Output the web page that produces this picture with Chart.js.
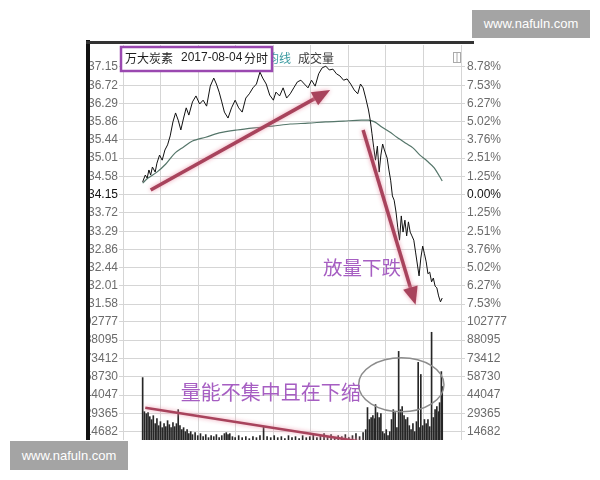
<!DOCTYPE html>
<html>
<head>
<meta charset="utf-8">
<script src="https://cdn.jsdelivr.net/npm/chart.js@4.4.0/dist/chart.umd.min.js"></script>
<style>
body { margin: 0; background: #fff; width: 600px; height: 480px; position: relative; overflow: hidden; }
#wrap { position: absolute; left: 0; top: 0; width: 600px; height: 440px; overflow: hidden; }
.box { position: absolute; }
.wm { position: absolute; background: #a4a4a4; color: #fff; font: 13px "Liberation Sans", Arial, sans-serif; text-align: center; }
</style>
</head>
<body>
<div id="wrap"><canvas id="chart" width="600" height="480"></canvas></div>
<div class="box" style="left:0;top:38px;width:86px;height:402px;background:#fff"></div>
<div class="box" style="left:86px;top:40px;width:4px;height:400px;background:#111"></div>
<div class="box" style="left:86px;top:41px;width:388px;height:3px;background:#333"></div>
<div class="wm" style="left:472px;top:10px;width:118px;height:28px;line-height:28px">www.nafuln.com</div>
<div class="wm" style="left:10px;top:441px;width:118px;height:29px;line-height:29px">www.nafuln.com</div>
<script>
// minutes since open (0..240) and price
var priceMin = [0.7, 2.8, 4.3, 5.7, 7.1, 8.5, 10.7, 12.1, 14.2, 16.3, 18.5, 20.6, 22.7, 24.9, 27, 29.1, 31.2, 33.4, 35.5, 37.6,
  40.5, 43.3, 46.2, 49, 51.8, 54.7, 57.5, 59.6, 61.8, 63.9, 66, 68.9, 71.7, 74.6, 77.4, 80.2, 83.1, 85.9, 88.8, 91.6,
  94.4, 96.6, 99.4, 102.2, 105.1, 107.2, 110.1, 112.9, 115.7, 118.6, 121.4, 124.3, 127.1, 129.9, 132.8, 135.6, 138.5, 141.3, 144.1, 147,
  149.8, 152.7, 155.5, 158.3, 161.2, 164, 166.9, 169.7, 172.5, 174.7, 176.8, 178.9, 181.1, 182.5, 183.9, 185.3, 186.7, 188.2, 189.6, 191,
  192.4, 193.8, 196, 197.4, 198.8, 200.2, 201.6, 203.1, 204.5, 205.9, 207.3, 208.7, 210.2, 211.6, 213, 214.4, 215.8, 217.3, 218.7, 220.1,
  221.5, 222.9, 224.4, 225.8, 227.2, 228.6, 230, 231.5, 232.9, 234.3, 235.7, 237.1, 238.6, 240]
var price = [34.45, 34.61, 34.54, 34.73, 34.61, 34.8, 34.68, 34.89, 35.08, 34.96, 35.2, 35.32, 35.53, 35.86, 36.07, 35.9, 35.67, 35.95, 36.19, 36.02,
  36.33, 36.47, 36.28, 36.37, 36.23, 36.7, 36.89, 36.75, 36.56, 36.33, 36.09, 35.95, 36.19, 36.37, 36.19, 36.09, 36.42, 36.52, 36.66, 36.75,
  37.03, 36.89, 36.75, 36.49, 36.37, 36.56, 36.47, 36.66, 36.42, 36.52, 36.66, 36.8, 36.84, 36.75, 36.66, 36.84, 36.7, 36.99, 37.13, 37.17,
  37.08, 37.1, 36.99, 36.94, 36.84, 36.87, 36.75, 36.61, 36.52, 36.75, 36.66, 36.42, 36.14, 35.9, 35.58, 35.25, 34.96, 35.29, 34.68, 35.08,
  35.34, 35.2, 35.01, 34.73, 34.49, 34.12, 34.02, 33.74, 33.37, 33.08, 33.65, 33.27, 33.55, 33.18, 33.51, 33.27, 33.18, 33.08, 32.8, 32.52,
  32.24, 32.66, 32.94, 32.76, 32.57, 32.29, 32.33, 32.1, 32.19, 32.0, 31.96, 31.77, 31.63, 31.72]

// average price line
var avgMin = [0.7, 5, 12.1, 19.2, 26.3, 33.4, 40.5, 51.1, 61.8, 76, 90.2, 104.4, 118.6, 132.8, 147, 161.2, 175.4, 181.1,
  186, 191.7, 198.1, 203.8, 210.9, 216.6, 222.2, 227.9, 233.6, 240]
var avgPrice = [34.42, 34.54, 34.68, 34.87, 35.12, 35.27, 35.41, 35.5, 35.6, 35.67, 35.72, 35.76, 35.81, 35.83, 35.86, 35.88, 35.9, 35.9,
  35.86, 35.74, 35.62, 35.5, 35.36, 35.25, 35.08, 34.94, 34.78, 34.47]

// volume bars
var volMin = [0.7, 2.1, 3.6, 5, 6.4, 7.8, 9.2, 10.7, 12.1, 13.5, 14.9, 16.3, 17.8, 19.2, 20.6, 22, 23.4, 24.9, 26.3, 27.7,
  29.1, 30.5, 32, 33.4, 34.8, 36.2, 37.6, 39.1, 40.5, 42.6, 44.7, 46.9, 49, 51.1, 53.3, 55.4, 57.5, 59.6, 61.8, 63.9,
  66, 67.5, 68.9, 70.3, 72.4, 74.6, 77.4, 80.2, 83.1, 85.9, 88.8, 91.6, 94.4, 97.3, 100.1, 103, 105.8, 108.6, 111.5, 114.3,
  117.2, 120, 122.8, 125.7, 128.5, 131.4, 134.2, 137, 139.9, 142.7, 145.6, 148.4, 151.2, 154.1, 156.9, 159.8, 162.6, 165.4, 168.3, 171.1,
  174, 176.8, 178.9, 180.3, 181.8, 183.2, 184.6, 186, 186.7, 188.2, 189.6, 191, 192.4, 193.8, 195.3, 196.7, 198.1, 199.5, 200.9, 202.4,
  203.8, 205.2, 206.6, 208, 209.5, 210.9, 212.3, 213.7, 215.1, 216.6, 218, 219.4, 220.8, 222.2, 222.9, 224.4, 225.8, 227.2, 228.6, 230,
  231.5, 232.9, 234.3, 235.7, 237.1, 237.9, 239.3, 240]
var volume = [58000, 30700, 29100, 29900, 26700, 24300, 27500, 21100, 25100, 19500, 22700, 17900, 21100, 18700, 23500, 20300, 17900, 21900, 18700, 21100,
  32300, 19500, 16300, 17900, 14700, 16300, 13100, 14700, 12300, 13900, 11500, 13100, 10700, 12300, 9900, 11500, 10700, 12300, 9900, 11500,
  13100, 13900, 12300, 13100, 10700, 9900, 11500, 9900, 10700, 9100, 10700, 9900, 11500, 18700, 10700, 9900, 11500, 9900, 10700, 9100,
  11500, 9900, 10700, 9100, 11500, 9900, 10700, 12300, 9900, 11500, 13100, 10700, 12300, 9900, 11500, 10700, 12300, 9900, 11500, 13100,
  10700, 13900, 16300, 34000, 24400, 26000, 27500, 25100, 36400, 29900, 26000, 29100, 14700, 13100, 16300, 11500, 14700, 24400, 32300, 29900,
  17900, 79000, 32300, 34700, 27500, 24400, 26000, 19500, 16300, 21100, 14700, 22700, 70200, 17900, 60500, 19500, 24400, 21100, 24400, 18700,
  94300, 26000, 32300, 34700, 30700, 37900, 62800, 50800]

// axis labels
var priceTicks = [37.15, 36.72, 36.29, 35.86, 35.44, 35.01, 34.58, 34.15, 33.72, 33.29, 32.86, 32.44, 32.01, 31.58]
var pctTicks = ['8.78%', '7.53%', '6.27%', '5.02%', '3.76%', '2.51%', '1.25%', '0.00%', '1.25%', '2.51%', '3.76%', '5.02%', '6.27%', '7.53%']
var volTicks = [102777, 88095, 73412, 58730, 44047, 29365, 14682]
var prevClose = 34.15

function pairs(xs, ys) {
  return xs.map(function (x, i) { return { x: x, y: ys[i] } })
}

var tickFont = { size: 12, family: '"Liberation Sans", Arial, sans-serif' }
var gridColor = '#d5d5d5'

// hand drawn markings, placed in data units
function arrow(ctx, x1, y1, x2, y2, head) {
  var a = Math.atan2(y2 - y1, x2 - x1)
  var c = Math.cos(a), s = Math.sin(a)
  ctx.beginPath()
  ctx.moveTo(x1, y1)
  ctx.lineTo(x2 - c * head * 0.7, y2 - s * head * 0.7)
  ctx.stroke()
  ctx.beginPath()
  ctx.moveTo(x2, y2)
  ctx.lineTo(x2 - c * head + s * head * 0.42, y2 - s * head - c * head * 0.42)
  ctx.lineTo(x2 - c * head - s * head * 0.42, y2 - s * head + c * head * 0.42)
  ctx.closePath()
  ctx.fill()
}

var markings = {
  id: 'markings',
  afterDraw: function (chart) {
    var ctx = chart.ctx
    var x = chart.scales.x, yP = chart.scales.yP, yV = chart.scales.yV
    ctx.save()

    // header
    ctx.textBaseline = 'middle'
    ctx.font = '12px "Noto Sans CJK SC"'
    ctx.fillStyle = '#3a9aa0'
    ctx.fillText('均线', 267, 58)
    ctx.fillStyle = '#3c3c3c'
    ctx.fillText('成交量', 298, 58)
    ctx.fillStyle = '#fff'
    ctx.fillRect(121, 47, 151, 24)
    ctx.strokeStyle = '#9a48b0'
    ctx.lineWidth = 2.5
    ctx.strokeRect(121, 47, 151, 24)
    ctx.fillStyle = '#1e1e1e'
    ctx.fillText('万大炭素', 125, 58)
    ctx.font = '12px "Liberation Sans", Arial, sans-serif'
    ctx.fillText('2017-08-04', 181, 58)
    ctx.font = '12px "Noto Sans CJK SC"'
    ctx.fillText('分时', 244, 58)
    ctx.strokeStyle = '#aaa'
    ctx.lineWidth = 1
    ctx.strokeRect(453.5, 52.5, 7, 10)
    ctx.beginPath()
    ctx.moveTo(457, 53)
    ctx.lineTo(457, 62)
    ctx.stroke()

    // arrows
    ctx.strokeStyle = '#a8435c'
    ctx.fillStyle = '#a8435c'
    ctx.shadowColor = 'rgba(235,150,170,0.9)'
    ctx.shadowBlur = 4
    ctx.lineWidth = 3.5
    arrow(ctx, x.getPixelForValue(7.1), yP.getPixelForValue(34.26), x.getPixelForValue(150.5), yP.getPixelForValue(36.61), 18)
    arrow(ctx, x.getPixelForValue(176.8), yP.getPixelForValue(35.67), x.getPixelForValue(218.7), yP.getPixelForValue(31.56), 18)
    ctx.lineWidth = 2.5
    ctx.beginPath()
    ctx.moveTo(x.getPixelForValue(2.8), yV.getPixelForValue(33900))
    ctx.lineTo(x.getPixelForValue(175.4), yV.getPixelForValue(6650))
    ctx.stroke()
    ctx.shadowBlur = 0

    // ellipse round the late volume
    var cx = x.getPixelForValue(207.3), cy = yV.getPixelForValue(52300)
    ctx.strokeStyle = '#8c8c8c'
    ctx.lineWidth = 1.5
    ctx.beginPath()
    ctx.ellipse(cx, cy, x.getPixelForValue(207.3 + 34.1) - cx, cy - yV.getPixelForValue(52300 + 21600), 0, 0, Math.PI * 2)
    ctx.stroke()

    // captions
    ctx.fillStyle = '#a65ec2'
    ctx.font = '19.5px "Noto Sans CJK SC"'
    ctx.fillText('放量下跌', x.getPixelForValue(144.8), yP.getPixelForValue(32.43))
    ctx.font = '20px "Noto Sans CJK SC"'
    ctx.fillText('量能不集中且在下缩', x.getPixelForValue(31.2), yV.getPixelForValue(45900))
    ctx.restore()
  }
}

new Chart(document.getElementById('chart'), {
  type: 'line',
  data: {
    datasets: [{
      data: pairs(priceMin, price),
      yAxisID: 'yP',
      borderColor: '#111',
      borderWidth: 1,
      pointRadius: 0,
      tension: 0
    }, {
      data: pairs(avgMin, avgPrice),
      yAxisID: 'yP',
      borderColor: '#55766a',
      borderWidth: 1.2,
      pointRadius: 0,
      tension: 0.3
    }, {
      type: 'bar',
      data: pairs(volMin, volume),
      yAxisID: 'yV',
      backgroundColor: '#262626',
      barThickness: 1
    }]
  },
  options: {
    responsive: false,
    animation: false,
    devicePixelRatio: 1,
    layout: { padding: { left: 88, right: 90, top: 45, bottom: 30 } },
    plugins: { legend: { display: false }, tooltip: { enabled: false } },
    scales: {
      x: {
        type: 'linear', min: 0, max: 240,
        ticks: { stepSize: 30, display: false },
        grid: { color: gridColor, drawTicks: false },
        border: { display: false },
        afterFit: function (s) { s.height = 0 }
      },
      yV: {
        position: 'left', stack: 'L', stackWeight: 137, min: 0, max: 109750,
        afterBuildTicks: function (s) { s.ticks = volTicks.map(function (v) { return { value: v } }) },
        afterFit: function (s) { s.width = 35 },
        ticks: { autoSkip: false, padding: 1, color: '#6b6b6b', font: tickFont, callback: function (v) { return String(v) } },
        grid: { color: gridColor, tickLength: 4 },
        border: { display: false }
      },
      yP: {
        position: 'left', stack: 'L', stackWeight: 268, min: 31.3685, max: 37.667,
        afterBuildTicks: function (s) { s.ticks = priceTicks.map(function (v) { return { value: v } }) },
        afterFit: function (s) { s.width = 35 },
        ticks: {
          autoSkip: false, padding: 1, font: tickFont,
          color: function (c) { return c.tick && c.tick.value === prevClose ? '#111' : '#6b6b6b' },
          callback: function (v) { return v.toFixed(2) }
        },
        grid: { color: gridColor, tickLength: 4 },
        border: { display: false }
      },
      yPR: {
        position: 'right', stack: 'R', stackWeight: 268, min: 31.3685, max: 37.667,
        afterBuildTicks: function (s) { s.ticks = priceTicks.map(function (v) { return { value: v } }) },
        afterFit: function (s) { s.width = 49 },
        ticks: {
          autoSkip: false, padding: 2, font: tickFont,
          color: function (c) { return c.index === 7 ? '#111' : '#6b6b6b' },
          callback: function (v, i) { return pctTicks[i] }
        },
        grid: { color: gridColor, tickLength: 4, drawOnChartArea: false },
        border: { display: false }
      },
      yVR: {
        position: 'right', stack: 'R', stackWeight: 137, min: 0, max: 109750,
        afterBuildTicks: function (s) { s.ticks = volTicks.map(function (v) { return { value: v } }) },
        afterFit: function (s) { s.width = 49 },
        ticks: { autoSkip: false, padding: 2, color: '#6b6b6b', font: tickFont, callback: function (v) { return String(v) } },
        grid: { color: gridColor, tickLength: 4, drawOnChartArea: false },
        border: { display: false }
      }
    }
  },
  plugins: [markings]
})
</script>
</body>
</html>
